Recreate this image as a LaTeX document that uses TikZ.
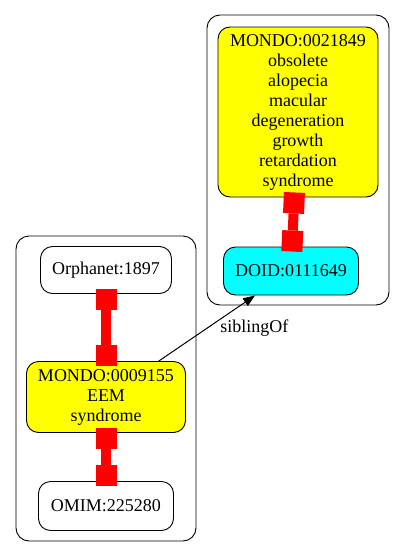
\documentclass[tikz,border=0pt]{standalone}
\usepackage{fontspec}
\setmainfont{Liberation Serif}
\usepackage{tikz}
\usetikzlibrary{arrows.meta}
\definecolor{termyellow}{RGB}{255,255,0}
\definecolor{termcyan}{RGB}{0,255,255}
\definecolor{xrefred}{RGB}{255,0,0}

\begin{document}
\begin{tikzpicture}[x=1pt,y=-1pt,
  every node/.style={font=\fontsize{18}{20}\selectfont},
  term/.style={draw,rounded corners=12pt,align=center,inner sep=0pt,line width=0.9pt},
  cluster/.style={draw,rounded corners=13pt,line width=0.9pt},
  xref/.style={xrefred,line width=10pt,shorten <=-5pt,shorten >=-5pt,
    {Square[length=21pt,width=21pt,line width=0pt]}-{Square[length=21pt,width=21pt,line width=0pt]}},
  sibling/.style={line width=1pt,-{Triangle[length=12pt,width=9pt]}}]

    \useasboundingbox (0,0) rectangle (405,557);

    \draw[cluster] (16,236) rectangle (196,541);
    \draw[cluster] (207,15) rectangle (389,305);

    \node[term,minimum width=131pt,minimum height=47pt]                  (orpha) at (106,270)  {Orphanet:1897};
    \node[term,fill=termyellow,minimum width=159pt,minimum height=71pt]  (eem)   at (106,397)  {MONDO:0009155\\EEM\\syndrome};
    \node[term,minimum width=135pt,minimum height=49pt]                  (omim)  at (106,506)  {OMIM:225280};
    \node[term,fill=termyellow,minimum width=160pt,minimum height=170pt] (amdgr) at (298,112)  {MONDO:0021849\\obsolete\\alopecia\\macular\\degeneration\\growth\\retardation\\syndrome};
    \node[term,fill=termcyan,minimum width=135pt,minimum height=48pt]    (doid)  at (291,271)  {DOID:0111649};

    \draw (orpha) edge[xref]  (eem);
    \draw (eem) edge[xref]  (omim);
    \draw (amdgr) edge[xref]  (doid);
    \draw (eem) edge[sibling] node[pos=0.5,anchor=west,xshift=13pt,inner sep=0pt] (siblbl) {siblingOf} (doid);
  \end{tikzpicture}
\end{document}
